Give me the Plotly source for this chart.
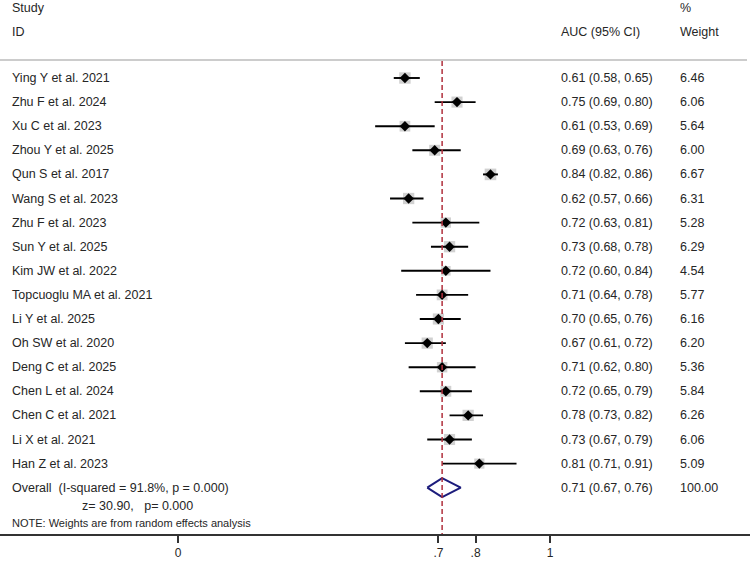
import plotly.graph_objects as go

studies = ["Ying Y et al. 2021", "Zhu F et al. 2024", "Xu C et al. 2023", "Zhou Y et al. 2025",
           "Qun S et al. 2017", "Wang S et al. 2023", "Zhu F et al. 2023", "Sun Y et al. 2025",
           "Kim JW et al. 2022", "Topcuoglu MA et al. 2021", "Li Y et al. 2025", "Oh SW et al. 2020",
           "Deng C et al. 2025", "Chen L et al. 2024", "Chen C et al. 2021", "Li X et al. 2021",
           "Han Z et al. 2023"]
auc = [0.61, 0.75, 0.61, 0.69, 0.84, 0.62, 0.72, 0.73, 0.72, 0.71, 0.70, 0.67, 0.71, 0.72, 0.78, 0.73, 0.81]
lo = [0.58, 0.69, 0.53, 0.63, 0.82, 0.57, 0.63, 0.68, 0.60, 0.64, 0.65, 0.61, 0.62, 0.65, 0.73, 0.67, 0.71]
hi = [0.65, 0.80, 0.69, 0.76, 0.86, 0.66, 0.81, 0.78, 0.84, 0.78, 0.76, 0.72, 0.80, 0.79, 0.82, 0.79, 0.91]
weight = [6.46, 6.06, 5.64, 6.00, 6.67, 6.31, 5.28, 6.29, 4.54, 5.77, 6.16, 6.20, 5.36, 5.84, 6.26, 6.06, 5.09]
overall = {"auc": 0.71, "lo": 0.67, "hi": 0.76, "weight": 100.00}
overall_label = "Overall  (I-squared = 91.8%, p = 0.000)"
z_label = "z= 30.90,   p= 0.000"
note_label = "NOTE: Weights are from random effects analysis"
tick_vals = [0, 0.7, 0.8, 1]
tick_text = ["0", ".7", ".8", "1"]

W, H = 750, 561
B = 27
PH = H - B
# x pixel = 178 + 372*v
x0px, scale = 178.0, 372.0
xr = [(0 - x0px) / scale, (W - x0px) / scale]

row0, dy = 78.0, 24.1
ys = [row0 + dy * i for i in range(len(studies))]
y_over = row0 + dy * len(studies)

FONT = "Liberation Sans, Arial, sans-serif"
TXT = "#262626"
FS = 12.5

fig = go.Figure()

# grey weight boxes
fig.add_trace(go.Scatter(
    x=auc, y=ys, mode="markers",
    marker=dict(symbol="square", size=[4.5 * (w ** 0.5) for w in weight], color="#bdbdbd",
                line=dict(width=0)),
    hoverinfo="skip", showlegend=False))
# CI lines
fig.add_trace(go.Scatter(
    x=auc, y=ys, mode="markers",
    marker=dict(size=0.1, color="black"),
    error_x=dict(type="data", symmetric=False,
                 array=[h - a for h, a in zip(hi, auc)],
                 arrayminus=[a - l for a, l in zip(auc, lo)],
                 color="black", thickness=1.9, width=0),
    hoverinfo="skip", showlegend=False))
# point estimates
fig.add_trace(go.Scatter(
    x=auc, y=ys, mode="markers",
    marker=dict(symbol="diamond", size=8, color="black"),
    hoverinfo="skip", showlegend=False))

# overall diamond
dh = 9.5
fig.add_trace(go.Scatter(
    x=[overall["lo"], overall["auc"], overall["hi"], overall["auc"], overall["lo"]],
    y=[y_over, y_over - dh, y_over, y_over + dh, y_over],
    mode="lines", line=dict(color="#1c1c7c", width=2),
    hoverinfo="skip", showlegend=False))

shapes = []
# dashed overall line
shapes.append(dict(type="line", xref="x", yref="y", x0=overall["auc"], x1=overall["auc"],
                   y0=61, y1=PH, line=dict(color="#b0303c", width=1.5, dash="5px,3px")))
# header separator
shapes.append(dict(type="line", xref="paper", yref="y", x0=0, x1=747 / W, y0=60, y1=60,
                   line=dict(color="#999999", width=1.2)))

ann = []
def t(x_px, y, s, size=FS, anchor="left"):
    ann.append(dict(x=x_px / W, y=y, xref="paper", yref="y", text=s, showarrow=False,
                    xanchor=anchor, yanchor="middle", font=dict(family=FONT, size=size, color=TXT)))

t(10, 8, "Study")
t(10, 32, "ID")
t(678, 8, "%")
t(678, 32, "Weight")
t(559, 32, "AUC (95% CI)")
for s, a, l, h, w, y in zip(studies, auc, lo, hi, weight, ys):
    t(10, y, s)
    t(559, y, f"{a:.2f} ({l:.2f}, {h:.2f})")
    t(678, y, f"{w:.2f}")
t(10, y_over, overall_label)
t(559, y_over, f"{overall['auc']:.2f} ({overall['lo']:.2f}, {overall['hi']:.2f})")
t(678, y_over, f"{overall['weight']:.2f}")
t(80, 506, z_label)
t(10, 523, note_label, size=11)

fig.update_layout(
    width=W, height=H, margin=dict(l=0, r=0, t=0, b=B),
    paper_bgcolor="white", plot_bgcolor="white",
    shapes=shapes, annotations=ann,
    xaxis=dict(range=xr, showgrid=False, zeroline=False, showline=True, linecolor="#333333",
               linewidth=1.5, ticks="outside", ticklen=7, tickwidth=1.5, tickcolor="#333333",
               tickvals=tick_vals, ticktext=tick_text,
               tickfont=dict(family=FONT, size=12, color=TXT), fixedrange=True),
    yaxis=dict(range=[PH, 0], visible=False, showgrid=False, zeroline=False, fixedrange=True),
)

fig.write_html("out.html")
